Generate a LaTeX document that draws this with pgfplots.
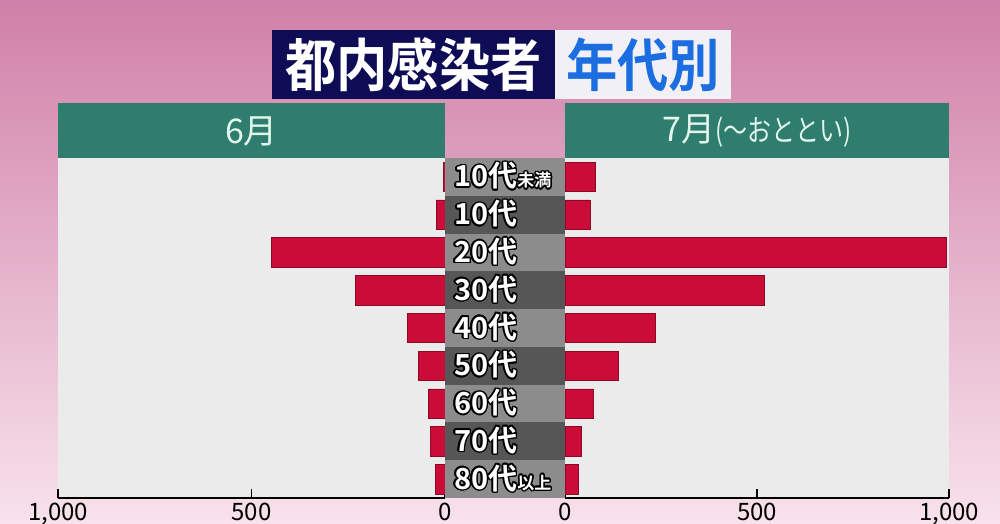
\documentclass[border=0pt]{standalone}
\usepackage{pgfplots}
\pgfplotsset{compat=1.18}
\usepackage{fontspec}
\usepackage{contour}
\setmainfont{Noto Sans CJK JP}
\newfontfamily\jp[BoldFont={* Bold}]{Noto Sans CJK JP}
\contourlength{1.5pt}
\contournumber{16}

\definecolor{bgtop}{RGB}{208,128,168}
\definecolor{bgmid}{RGB}{232,178,202}
\definecolor{bgbot}{RGB}{248,226,235}
\definecolor{plotbg}{RGB}{235,235,235}
\definecolor{barred}{RGB}{204,12,56}
\definecolor{bardark}{RGB}{140,10,40}
\definecolor{navy}{RGB}{14,12,85}
\definecolor{titlebg}{RGB}{240,240,246}
\definecolor{titleblue}{RGB}{28,110,224}
\definecolor{hdrgreen}{RGB}{46,125,110}
\definecolor{hdrtext}{RGB}{226,246,236}
\definecolor{rowlight}{RGB}{140,140,140}
\definecolor{rowdark}{RGB}{86,86,86}

\pgfplotsset{pyr/.style={
  scale only axis, height=340pt,
  ymin=-0.5, ymax=8.5, y dir=reverse,
  xmin=0, xmax=1000,
  axis x line*=bottom, hide y axis,
  x axis line style={black, line width=1.6pt, -},
  xtick={0,500,1000}, xticklabels={0,500,{1,000}},
  tick align=inside, major tick length=9pt,
  every tick/.style={black, line width=1.6pt},
  xticklabel style={font=\jp\fontsize{24}{24}\selectfont, inner sep=1pt, yshift=-4pt},
  axis background/.style={fill=plotbg},
  clip=false,
}}

\begin{document}
\begin{tikzpicture}[x=1pt,y=1pt]
\path[use as bounding box] (0,0) rectangle (1000,523);
\clip (0,0) rectangle (1000,523);
\shade[top color=bgtop, middle color=bgmid, bottom color=bgbot] (0,0) rectangle (1000,523);

% title
\fill[navy] (272,424) rectangle (555,493);
\fill[titlebg] (555,424) rectangle (731,493);
\node[white, inner sep=0pt] at (413.5,458) {\scalebox{0.9}[1]{\jp\bfseries\fontsize{57}{57}\selectfont 都内感染者}};
\node[titleblue, inner sep=0pt] at (643,458) {\scalebox{0.9}[1]{\jp\bfseries\fontsize{57}{57}\selectfont 年代別}};

% panel headers
\fill[hdrgreen] (58,365) rectangle (445,420);
\fill[hdrgreen] (565,365) rectangle (949,420);
\node[hdrtext, inner sep=0pt] at (251.5,392) {\jp\fontsize{34}{34}\selectfont 6月};
\node[hdrtext, inner sep=0pt] at (757,392) {\jp\fontsize{34}{34}\selectfont 7月\scalebox{0.8}[1]{\fontsize{30}{30}\selectfont(～おととい)}};

% June
\begin{axis}[pyr, at={(58pt,25pt)}, anchor=south west, width=387pt, x dir=reverse]
\addplot[xbar, bar width=0.78, fill=barred, draw=bardark, line width=0.6pt]
  coordinates {(5,0) (23,1) (449,2) (232,3) (98,4) (68,5) (42,6) (38,7) (25,8)};
\end{axis}

% July (to the day before yesterday)
\begin{axis}[pyr, at={(565pt,25pt)}, anchor=south west, width=384pt]
\addplot[xbar, bar width=0.78, fill=barred, draw=bardark, line width=0.6pt]
  coordinates {(78,0) (65,1) (993,2) (519,3) (236,4) (139,5) (73,6) (42,7) (35,8)};
\end{axis}

% middle column of age groups
\foreach \i in {0,...,8}{
  \pgfmathsetmacro\yt{365-37.78*\i}
  \pgfmathsetmacro\yb{365-37.78*(\i+1)}
  \ifodd\i
    \fill[rowdark] (445,\yb) rectangle (565,\yt);
  \else
    \fill[rowlight] (445,\yb) rectangle (565,\yt);
  \fi
}
\foreach \i/\lab/\suf in {0/10代/未満, 1/10代/, 2/20代/, 3/30代/, 4/40代/, 5/50代/, 6/60代/, 7/70代/, 8/80代/以上}{
  \pgfmathsetmacro\yc{365-37.78*(\i+0.5)-10}
  \node[anchor=base west, inner sep=0pt] at (454,\yc)
    {\color{white}\jp\bfseries\fontsize{29}{29}\selectfont\contour{black}{\lab}\fontsize{17}{17}\selectfont\contour{black}{\suf}};
}
\end{tikzpicture}
\end{document}
